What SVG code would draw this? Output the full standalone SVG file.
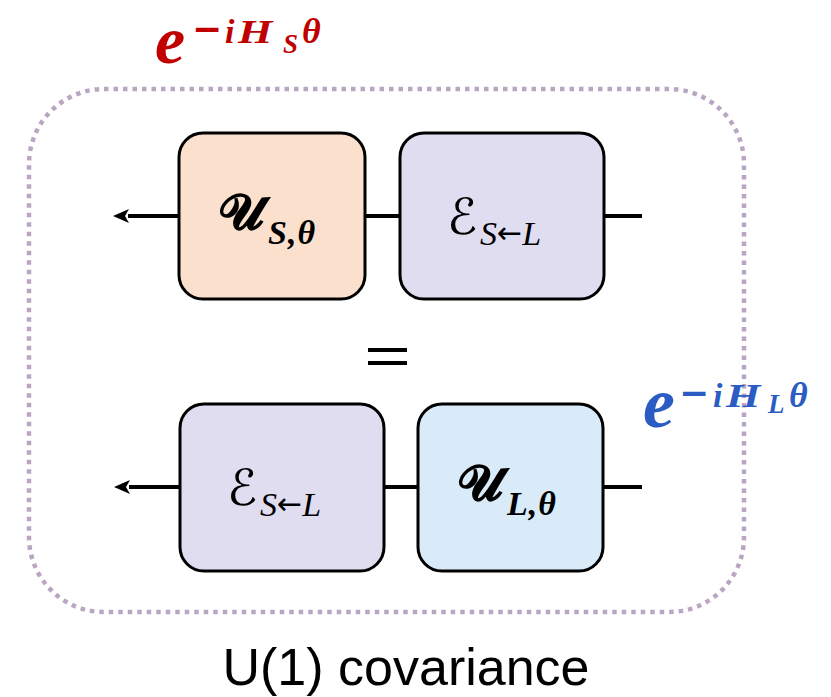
<svg xmlns="http://www.w3.org/2000/svg" width="831" height="697" viewBox="0 0 831 697">
  <defs>
    <marker id="arr" viewBox="0 0 16 14" refX="1" refY="7" markerWidth="16" markerHeight="14" markerUnits="userSpaceOnUse" orient="auto-start-reverse">
      <path d="M0,0 L16,7 L0,14 L4,7 Z" fill="#000"/>
    </marker>
  </defs>
  <style>
    .box { stroke: #000; stroke-width: 3; }
    .wire { stroke: #000; stroke-width: 4; fill: none; }
    .bi { font-family: "Liberation Serif", "DejaVu Serif", serif; font-weight: bold; font-style: italic; }
    .it { font-family: "Liberation Serif", "DejaVu Serif", serif; font-style: italic; }
    .cal { font-family: "DejaVu Serif", "DejaVu Sans", serif; }
    .arw { font-family: "DejaVu Sans", sans-serif; font-style: normal; }
    .mn { font-family: "DejaVu Sans", sans-serif; font-weight: bold; font-style: normal; }
  </style>
  <rect id="frame" x="29" y="89" width="715" height="523" rx="75" fill="none" stroke="#b8a6c2" stroke-width="4.5" stroke-dasharray="4.5 5"/>

  <g id="connectors">
    <line class="wire" x1="179" y1="216" x2="128" y2="216" marker-end="url(#arr)"/>
    <line class="wire" x1="365" y1="216" x2="400" y2="216"/>
    <line class="wire" x1="604" y1="216" x2="642" y2="216"/>
    <line class="wire" x1="180" y1="487" x2="129" y2="487" marker-end="url(#arr)"/>
    <line class="wire" x1="384" y1="487" x2="418" y2="487"/>
    <line class="wire" x1="603" y1="487" x2="642" y2="487"/>
  </g>

  <g id="node-US">
    <rect class="box" x="179" y="133" width="186" height="166" rx="24" fill="#fae0cd"/>
    <text x="219" y="229" font-size="50" class="cal" font-weight="bold">𝓤</text>
    <text x="268" y="244" font-size="34" class="bi" letter-spacing="1">S,θ</text>
  </g>
  <g id="node-E1">
    <rect class="box" x="400" y="133" width="204" height="166" rx="24" fill="#e0ddf1"/>
    <text x="447" y="234" font-size="50" class="cal">ℰ</text>
    <text x="480" y="245" font-size="34" class="it">S<tspan class="arw" font-size="30" dy="-2">←</tspan><tspan dy="2">L</tspan></text>
  </g>
  <g id="node-E2">
    <rect class="box" x="180" y="404" width="204" height="167" rx="24" fill="#e0ddf1"/>
    <text x="227" y="505" font-size="50" class="cal">ℰ</text>
    <text x="260" y="516" font-size="34" class="it">S<tspan class="arw" font-size="30" dy="-2">←</tspan><tspan dy="2">L</tspan></text>
  </g>
  <g id="node-UL">
    <rect class="box" x="418" y="404" width="185" height="167" rx="24" fill="#d9ebf9"/>
    <text x="458" y="500" font-size="50" class="cal" font-weight="bold">𝓤</text>
    <text x="507" y="515" font-size="34" class="bi" letter-spacing="1">L,θ</text>
  </g>

  <g id="equals">
    <rect x="368" y="348" width="39" height="4" fill="#000"/>
    <rect x="368" y="361" width="39" height="4" fill="#000"/>
  </g>

  <g id="label-HS" fill="#c00000" class="bi">
    <text x="155" y="63" font-size="68">e</text>
    <text x="192" y="41" font-size="36" class="mn">−</text>
    <text x="225" y="43" font-size="34">i</text>
    <text transform="translate(238,43) scale(1.3,1)" font-size="34">H</text>
    <text x="283" y="53" font-size="27">S</text>
    <text x="302" y="43" font-size="36">θ</text>
  </g>
  <g id="label-HL" fill="#2a5cc4" class="bi">
    <text x="643" y="427" font-size="72">e</text>
    <text x="679" y="405" font-size="36" class="mn">−</text>
    <text x="713" y="407" font-size="34">i</text>
    <text transform="translate(726,407) scale(1.3,1)" font-size="34">H</text>
    <text x="768" y="413" font-size="27">L</text>
    <text x="789" y="407" font-size="36">θ</text>
  </g>

  <text id="caption" x="406" y="685" font-size="52" text-anchor="middle" font-family="Liberation Sans, Arial, sans-serif" fill="#000">U(1) covariance</text>
</svg>
